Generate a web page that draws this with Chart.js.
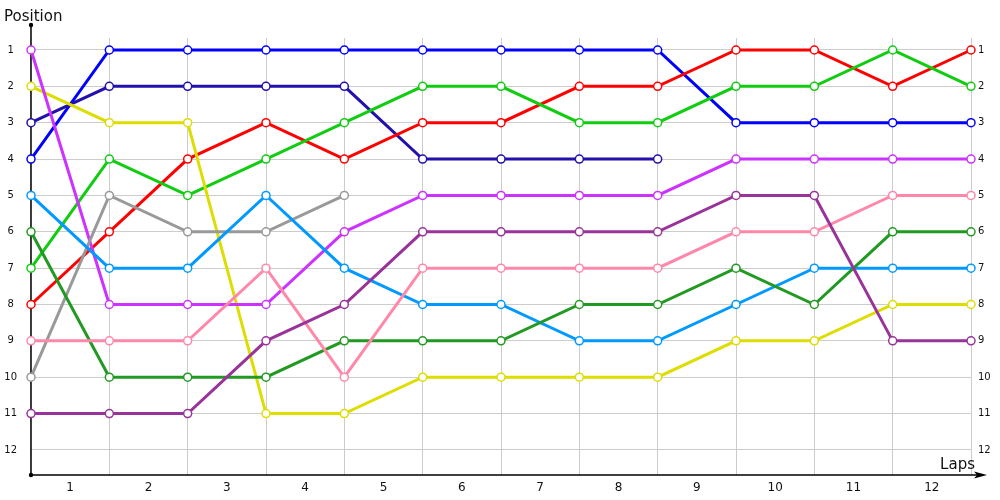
<!DOCTYPE html>
<html>
<head>
<meta charset="utf-8">
<script src="https://cdn.jsdelivr.net/npm/chart.js@4/dist/chart.umd.min.js"></script>
<style>
  html, body { margin: 0; padding: 0; background: #fff; }
  #wrap { width: 1000px; height: 500px; }
</style>
</head>
<body>
<div id="wrap"><canvas id="chart"></canvas></div>
<script>
// lap labels (between gridlines) and position ticks
var lapLabels = ['1','2','3','4','5','6','7','8','9','10','11','12'];
var posTicks = [1,2,3,4,5,6,7,8,9,10,11,12];

// position of each driver at laps 0..12
var blue      = [4,1,1,1,1,1,1,1,1,3,3,3,3];
var navy      = [3,2,2,2,2,4,4,4,4];
var red       = [8,6,4,3,4,3,3,2,2,1,1,2,1];
var green     = [7,4,5,4,3,2,2,3,3,2,2,1,2];
var yellow    = [2,3,3,11,11,10,10,10,10,9,9,8,8];
var magenta   = [1,8,8,8,6,5,5,5,5,4,4,4,4];
var grey      = [10,5,6,6,5];
var lightBlue = [5,7,7,5,7,8,8,9,9,8,7,7,7];
var darkGreen = [6,10,10,10,9,9,9,8,8,7,8,6,6];
var pink      = [9,9,9,7,10,7,7,7,7,6,6,5,5];
var purple    = [11,11,11,9,8,6,6,6,6,5,5,9,9];

function toPoints(arr) {
  return arr.map(function(v, i) { return {x: i, y: v}; });
}

function series(arr, color) {
  return {
    data: toPoints(arr),
    xAxisID: 'lap',
    yAxisID: 'y',
    borderColor: color,
    backgroundColor: '#ffffff',
    borderWidth: 3,
    pointRadius: 4,
    pointBorderWidth: 1.5,
    pointBorderColor: color,
    pointBackgroundColor: '#ffffff',
    tension: 0,
    clip: false
  };
}

var datasets = [
  series(purple, '#993399'),
  series(pink, '#ff88aa'),
  series(darkGreen, '#229922'),
  series(lightBlue, '#0099ff'),
  series(grey, '#999999'),
  series(magenta, '#cc33ff'),
  series(yellow, '#dddd00'),
  series(green, '#11cc11'),
  series(red, '#ff0000'),
  series(navy, '#2211aa'),
  series(blue, '#0000ff')
];

// axis lines, arrow and titles
var axisDeco = {
  id: 'axisDeco',
  beforeDatasetsDraw: function(chart) {
    var ctx = chart.ctx;
    var a = chart.chartArea;
    ctx.save();
    ctx.strokeStyle = '#000';
    ctx.fillStyle = '#000';
    ctx.lineWidth = 1.5;
    ctx.beginPath();
    ctx.moveTo(a.left, a.top - 13);
    ctx.lineTo(a.left, a.bottom);
    ctx.lineTo(a.right + 10, a.bottom);
    ctx.stroke();
    ctx.beginPath();
    ctx.arc(a.left, a.top - 13, 2.2, 0, Math.PI * 2);
    ctx.fill();
    ctx.beginPath();
    ctx.arc(a.left, a.bottom, 2.2, 0, Math.PI * 2);
    ctx.fill();
    ctx.beginPath();
    ctx.moveTo(a.right + 16, a.bottom);
    ctx.lineTo(a.right + 3, a.bottom - 3.5);
    ctx.lineTo(a.right + 6, a.bottom);
    ctx.lineTo(a.right + 3, a.bottom + 3.5);
    ctx.closePath();
    ctx.fill();
    ctx.restore();
  },
  afterDraw: function(chart) {
    var ctx = chart.ctx;
    var a = chart.chartArea;
    ctx.save();
    ctx.fillStyle = '#111';
    ctx.font = '15px "DejaVu Sans"';
    ctx.textBaseline = 'alphabetic';
    ctx.textAlign = 'left';
    ctx.fillText('Position', 4, 21);
    ctx.textAlign = 'right';
    ctx.fillText('Laps', a.right + 4, a.bottom - 6);
    ctx.restore();
  }
};

var yOpts = {
  type: 'linear',
  reverse: true,
  min: 0.67,
  max: 12.69,
  afterBuildTicks: function(scale) {
    scale.ticks = posTicks.map(function(v) { return {value: v}; });
  },
  border: { display: false },
  ticks: {
    color: '#111',
    font: { family: 'DejaVu Sans', size: 10 },
    padding: 14,
    crossAlign: 'center'
  },
  grid: { color: '#cccccc', lineWidth: 1, drawTicks: false }
};

new Chart(document.getElementById('chart'), {
  type: 'line',
  data: { labels: lapLabels, datasets: datasets },
  options: {
    responsive: true,
    maintainAspectRatio: false,
    animation: false,
    layout: { padding: { top: 38, left: 0, right: 0, bottom: 0 } },
    plugins: { legend: { display: false }, tooltip: { enabled: false } },
    scales: {
      x: {
        type: 'category',
        labels: lapLabels,
        offset: true,
        border: { display: false },
        grid: { offset: true, color: '#cccccc', drawTicks: false },
        ticks: { color: '#111', font: { family: 'DejaVu Sans', size: 12 }, padding: 6 },
        afterFit: function(s) { s.height = 25; }
      },
      lap: {
        type: 'linear',
        min: 0,
        max: 12,
        display: false
      },
      y: Object.assign({}, yOpts, {
        position: 'left',
        afterFit: function(s) { s.width = 31; }
      }),
      y2: Object.assign({}, yOpts, {
        position: 'right',
        grid: { display: false, drawTicks: false },
        ticks: {
          color: '#111',
          font: { family: 'DejaVu Sans', size: 10 },
          padding: 7,
          crossAlign: 'near'
        },
        afterFit: function(s) { s.width = 29; }
      })
    }
  },
  plugins: [axisDeco]
});
</script>
</body>
</html>
